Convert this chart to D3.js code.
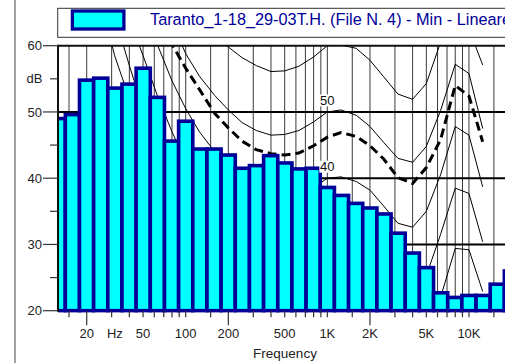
<!DOCTYPE html>
<html><head><meta charset="utf-8">
<script src="https://cdn.jsdelivr.net/npm/d3@7"></script>
<style>html,body{margin:0;padding:0;background:#fff;overflow:hidden}</style>
</head><body>
<svg id="c" width="505" height="363"></svg>
<script>
// ---------- data ----------
const bandCenters = [12.5,16,20,25,31.5,40,50,63,80,100,125,160,200,250,315,400,500,630,800,1000,1250,1600,2000,2500,3150,4000,5000,6300,8000,10000,12500,16000,20000];
const bandLevels  = [49.0,49.6,54.8,55.1,53.6,54.2,56.6,52.2,45.6,48.6,44.4,44.4,43.5,41.5,41.9,43.4,42.3,41.4,41.5,38.6,37.4,36.2,35.5,34.6,31.7,28.7,26.5,22.7,22.0,22.3,22.3,24.0,26.0];

const contourFreqs = [20,25,31.5,40,50,63,80,100,125,160,200,250,315,400,500,630,800,1000,1250,1600,2000,2500,3150,4000,5000,6300,8000,10000,12500];
const phon10 = [74.5,67,58.5,52,46.5,40.5,35,27,23.5,20,17,14.5,12.5,11,10,9.5,9.6,10,10.2,9.5,8.5,6,3.5,3,5.5,12.5,20,20.5,14.5];
const phon20 = [80,72.5,64.5,57,50.5,45,39.5,35,31,27.5,24.5,22,20,18.5,17.5,17.5,18.5,20,20.2,19.5,18.5,16,13.5,13,15.5,22,29.4,29.2,22.9];
const phon30 = [85,78,71,64,58.5,52.5,47,42.5,38.5,35.3,32.5,30.2,28.5,27.5,27.2,27.6,28.6,30,30.2,29.5,28.4,26,23.4,22.8,25.3,31.5,38.5,37.7,30.4];
const phon40 = [95,87,80,73,67,60.2,54.7,50.5,47,44,41.5,39.3,37.8,37,36.9,37.4,38.6,40,40.2,39.5,38.2,35.8,33.2,32.6,35,40.5,47.8,46.5,38.7];
const phon50 = [102,95,88,81,75,69,63.5,58.8,55.4,52.5,50.3,48.4,47.2,46.5,46.6,47.2,48.5,50,50.3,49.5,47.8,45.4,43.0,42.4,44.8,50.2,57.2,55.8,47.5];
const phon60 = [108,101,94,88,82,76,71,67.5,64,61.5,59.8,58.2,57,56.1,56.2,56.9,58.3,60,60.1,59.6,57.8,55.3,52.7,51.9,54.3,60.5,66,62.5,57.1];
const loudnessLevels = [110,100,90,80,72,66,60.2,56.6,53.4,49.8,47.6,45.6,44.3,43.7,43.5,43.8,44.9,46.2,46.9,46.3,44.9,42.9,40.1,39.2,41.6,45.8,54,52.4,45.5];

const contourLabels = ["50","40"];
const contourLabelLevels = [50,40];

const xLabelFreqs = [20,31.6,50,100,200,500,1000,2000,5000,10000];
const xLabelTexts = ["20","Hz","50","100","200","500","1K","2K","5K","10K"];
const xMajorTicks = [20,200,2000,20000];
const xMinorTicks = [15,30,40,50,60,70,80,90,100,150,300,400,500,600,700,800,900,1000,1500,3000,4000,5000,6000,7000,8000,9000,10000,15000];
const yMajorTicks = [20,30,40,50,60];
const yMinorTicks = [25,35,45,55];
const yLabelTexts = ["20","30","40","50","60"];
const legendText = "Taranto_1-18_29-03T.H. (File N. 4) - Min - Lineare";
const xTitle = "Frequency";

// ---------- drawing ----------
const FONT = "'Liberation Sans', Arial, Helvetica, sans-serif";
const NAVY = "#000099", CYAN = "#00FFFF";
const svg = d3.select("#c");
const x = d3.scaleLog().domain([12.5, 20000]).range([57.8, 511.6]);
const y = d3.scaleLinear().domain([20, 60]).range([310.7, 45.7]);
const L = 58, T = y(60), B = y(20), R = 520;

const defs = svg.append("defs");
defs.append("clipPath").attr("id","plotClip").append("rect")
  .attr("x", L).attr("y", T).attr("width", R - L).attr("height", B - T);
defs.append("clipPath").attr("id","barClip").append("rect")
  .attr("x", L).attr("y", T).attr("width", R - L).attr("height", B - T + 2);

// left gray rule
svg.append("line").attr("x1",15).attr("x2",15).attr("y1",0).attr("y2",363)
  .attr("stroke","#8a8a8a").attr("stroke-width",1.6);

// legend
svg.append("rect").attr("x",57.7).attr("y",8.3).attr("width",520).attr("height",29)
  .attr("fill","#fff").attr("stroke","#333").attr("stroke-width",1);
svg.append("rect").attr("x",72.4).attr("y",11).attr("width",51.5).attr("height",18)
  .attr("fill",CYAN).attr("stroke",NAVY).attr("stroke-width",3.3);
svg.append("text").attr("x",150).attr("y",24.5).attr("font-family",FONT).attr("font-size",16.3)
  .attr("fill",NAVY).text(legendText);

const plot = svg.append("g").attr("clip-path","url(#plotClip)");

// vertical grid
const allX = xMajorTicks.concat(xMinorTicks);
plot.selectAll("line.vg").data(allX).join("line").attr("class","vg")
  .attr("x1",d=>x(d)).attr("x2",d=>x(d)).attr("y1",T).attr("y2",B)
  .attr("stroke","#3a3a3a").attr("stroke-width",1);

// horizontal thick lines
plot.selectAll("line.hg").data([30,40,50]).join("line").attr("class","hg")
  .attr("x1",L).attr("x2",R).attr("y1",d=>y(d)).attr("y2",d=>y(d))
  .attr("stroke","#000").attr("stroke-width",2);

// equal loudness contours
const line = d3.line().x(d=>x(d[0])).y(d=>y(d[1]));
const contours = [phon10, phon20, phon30, phon40, phon50, phon60];
contours.forEach(c => {
  plot.append("path").attr("d", line(contourFreqs.map((f,i)=>[f,c[i]])))
    .attr("fill","none").attr("stroke","#000").attr("stroke-width",1);
});
plot.append("path").attr("d", line(contourFreqs.map((f,i)=>[f,loudnessLevels[i]])))
  .attr("fill","none").attr("stroke","#000").attr("stroke-width",3)
  .attr("stroke-dasharray","9,5");

// bars
const bars = svg.append("g").attr("clip-path","url(#barClip)");
bars.selectAll("rect").data(bandCenters.map((f,i)=>({f, v: bandLevels[i]}))).join("rect")
  .each(function(d){
    const k = Math.round(10*Math.log10(d.f));
    const lo = Math.pow(10,(k-0.5)/10), hi = Math.pow(10,(k+0.5)/10);
    d3.select(this).attr("x", x(lo)).attr("width", x(hi)-x(lo))
      .attr("y", y(d.v)).attr("height", y(20)-y(d.v));
  })
  .attr("fill",CYAN).attr("stroke",NAVY).attr("stroke-width",3.6);

// contour labels
contourLabels.forEach((t,i)=>{
  const cx = x(1000), cy = y(contourLabelLevels[i]) - 11.5;
  svg.append("rect").attr("x",cx-8).attr("y",cy-6).attr("width",16).attr("height",12).attr("fill","#fff");
  svg.append("text").attr("x",cx).attr("y",cy+4.6).attr("text-anchor","middle")
    .attr("font-family",FONT).attr("font-size",13).attr("fill","#111").text(t);
});

// frame
svg.append("line").attr("x1",L).attr("x2",R).attr("y1",T).attr("y2",T).attr("stroke","#111").attr("stroke-width",2);
svg.append("line").attr("x1",L).attr("x2",L).attr("y1",T-1).attr("y2",B+1).attr("stroke","#111").attr("stroke-width",2);

// y ticks
svg.selectAll("line.yt").data(yMajorTicks).join("line").attr("class","yt")
  .attr("x1",43).attr("x2",L).attr("y1",d=>y(d)).attr("y2",d=>y(d)).attr("stroke","#333").attr("stroke-width",1.2);
svg.selectAll("line.ym").data(yMinorTicks).join("line").attr("class","ym")
  .attr("x1",50).attr("x2",L).attr("y1",d=>y(d)).attr("y2",d=>y(d)).attr("stroke","#333").attr("stroke-width",1.2);
svg.selectAll("text.yl").data(yMajorTicks).join("text").attr("class","yl")
  .attr("x",42).attr("y",d=>y(d)+4.6).attr("text-anchor","end")
  .attr("font-family",FONT).attr("font-size",13).attr("fill","#222").text((d,i)=>yLabelTexts[i]);
svg.append("text").attr("x",42.5).attr("y",y(55)+4.6).attr("text-anchor","end")
  .attr("font-family",FONT).attr("font-size",13).attr("fill","#222").text("dB");

// x ticks
svg.selectAll("line.xt").data(xMinorTicks).join("line").attr("class","xt")
  .attr("x1",d=>x(d)).attr("x2",d=>x(d)).attr("y1",B).attr("y2",B+6.5).attr("stroke","#333").attr("stroke-width",1.2);
svg.selectAll("line.xT").data(xMajorTicks).join("line").attr("class","xT")
  .attr("x1",d=>x(d)).attr("x2",d=>x(d)).attr("y1",B).attr("y2",B+14.5).attr("stroke","#333").attr("stroke-width",1.2);
svg.selectAll("text.xl").data(xLabelFreqs).join("text").attr("class","xl")
  .attr("x",d=>x(d)).attr("y",338).attr("text-anchor","middle")
  .attr("font-family",FONT).attr("font-size",13).attr("fill","#222").text((d,i)=>xLabelTexts[i]);
svg.append("text").attr("x",285).attr("y",358).attr("text-anchor","middle")
  .attr("font-family",FONT).attr("font-size",13.5).attr("fill","#222").text(xTitle);
</script>
</body></html>
